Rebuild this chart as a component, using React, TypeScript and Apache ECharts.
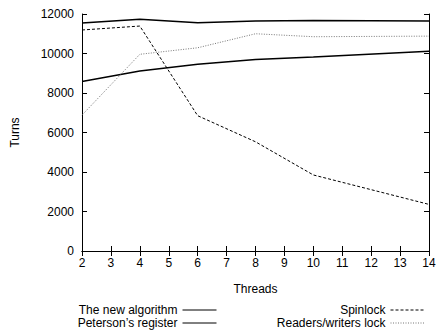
import React, { useEffect, useRef } from "react";
import * as echarts from "echarts";

const threads = [2, 4, 6, 8, 10, 14];
const newAlgorithm = [11540, 11730, 11560, 11640, 11670, 11640];
const peterson = [8580, 9110, 9450, 9700, 9820, 10110];
const spinlock = [11190, 11390, 6850, 5530, 3850, 2360];
const readersWriters = [6880, 9960, 10290, 11000, 10850, 10880];
const xTicks = [2, 3, 4, 5, 6, 7, 8, 9, 10, 11, 12, 13, 14];
const yTicks = [0, 2000, 4000, 6000, 8000, 10000, 12000];

const font = "'Liberation Sans', Arial, Helvetica, sans-serif";

export default function App() {
  const ref = useRef<HTMLDivElement>(null);
  useEffect(() => {
    if (!ref.current) return;
    const chart = echarts.init(ref.current, undefined, { renderer: "svg" });
    const pair = (ys: number[]) => threads.map((t, i) => [t, ys[i]]);
    const axisLine = { show: true, lineStyle: { color: "#000", width: 1 } };
    const tick = { show: true, inside: true, length: 5, lineStyle: { color: "#000" } };
    const label = { color: "#000", fontFamily: font, fontSize: 12, formatter: (v: number) => String(v) };
    const legendCommon = {
      orient: "vertical",
      align: "right",
      top: 304,
      itemWidth: 34,
      itemHeight: 10,
      itemGap: 1,
      padding: 0,
      itemStyle: { color: "transparent", borderColor: "transparent", borderWidth: 0, opacity: 0 },
      lineStyle: { width: 1 },
      textStyle: { color: "#000", fontFamily: font, fontSize: 12, lineHeight: 12 },
    };
    chart.setOption({
      animation: false,
      backgroundColor: "#fff",
      grid: { left: 82, right: 16, top: 14, bottom: 82 },
      xAxis: [
        {
          type: "value",
          min: xTicks[0],
          max: xTicks[xTicks.length - 1],
          interval: 1,
          name: "Threads",
          nameLocation: "middle",
          nameGap: 32,
          nameTextStyle: { color: "#000", fontFamily: font, fontSize: 12 },
          axisLine,
          axisTick: tick,
          axisLabel: { ...label, margin: 6 },
          splitLine: { show: false },
        },
        {
          type: "value",
          position: "top",
          min: xTicks[0],
          max: xTicks[xTicks.length - 1],
          interval: 1,
          axisLine,
          axisTick: tick,
          axisLabel: { show: false },
          splitLine: { show: false },
        },
      ],
      yAxis: [
        {
          type: "value",
          min: yTicks[0],
          max: yTicks[yTicks.length - 1],
          interval: 2000,
          name: "Turns",
          nameLocation: "middle",
          nameGap: 61,
          nameTextStyle: { color: "#000", fontFamily: font, fontSize: 12 },
          axisLine,
          axisTick: tick,
          axisLabel: { ...label, margin: 8 },
          splitLine: { show: false },
        },
        {
          type: "value",
          position: "right",
          min: yTicks[0],
          max: yTicks[yTicks.length - 1],
          interval: 2000,
          axisLine,
          axisTick: tick,
          axisLabel: { show: false },
          splitLine: { show: false },
        },
      ],
      legend: [
        { ...legendCommon, data: ["The new algorithm", "Peterson\u2019s register"], right: 228 },
        { ...legendCommon, data: ["Spinlock", "Readers/writers lock"], right: 20 },
      ],
      series: [
        {
          name: "The new algorithm",
          type: "line",
          data: pair(newAlgorithm),
          symbol: "none",
          lineStyle: { color: "#000", width: 1.5, type: "solid" },
          itemStyle: { color: "#000" },
        },
        {
          name: "Peterson\u2019s register",
          type: "line",
          data: pair(peterson),
          symbol: "none",
          lineStyle: { color: "#000", width: 1.5, type: "solid" },
          itemStyle: { color: "#000" },
        },
        {
          name: "Spinlock",
          type: "line",
          data: pair(spinlock),
          symbol: "none",
          lineStyle: { color: "#000", width: 1, type: [3, 2] },
          itemStyle: { color: "#000" },
        },
        {
          name: "Readers/writers lock",
          type: "line",
          data: pair(readersWriters),
          symbol: "none",
          lineStyle: { color: "#777", width: 1, type: [1, 1.5] },
          itemStyle: { color: "#777" },
        },
      ],
    });
    return () => chart.dispose();
  }, []);
  return <div ref={ref} style={{ width: 445, height: 333, position: "absolute", left: 0, top: 0 }} />;
}
